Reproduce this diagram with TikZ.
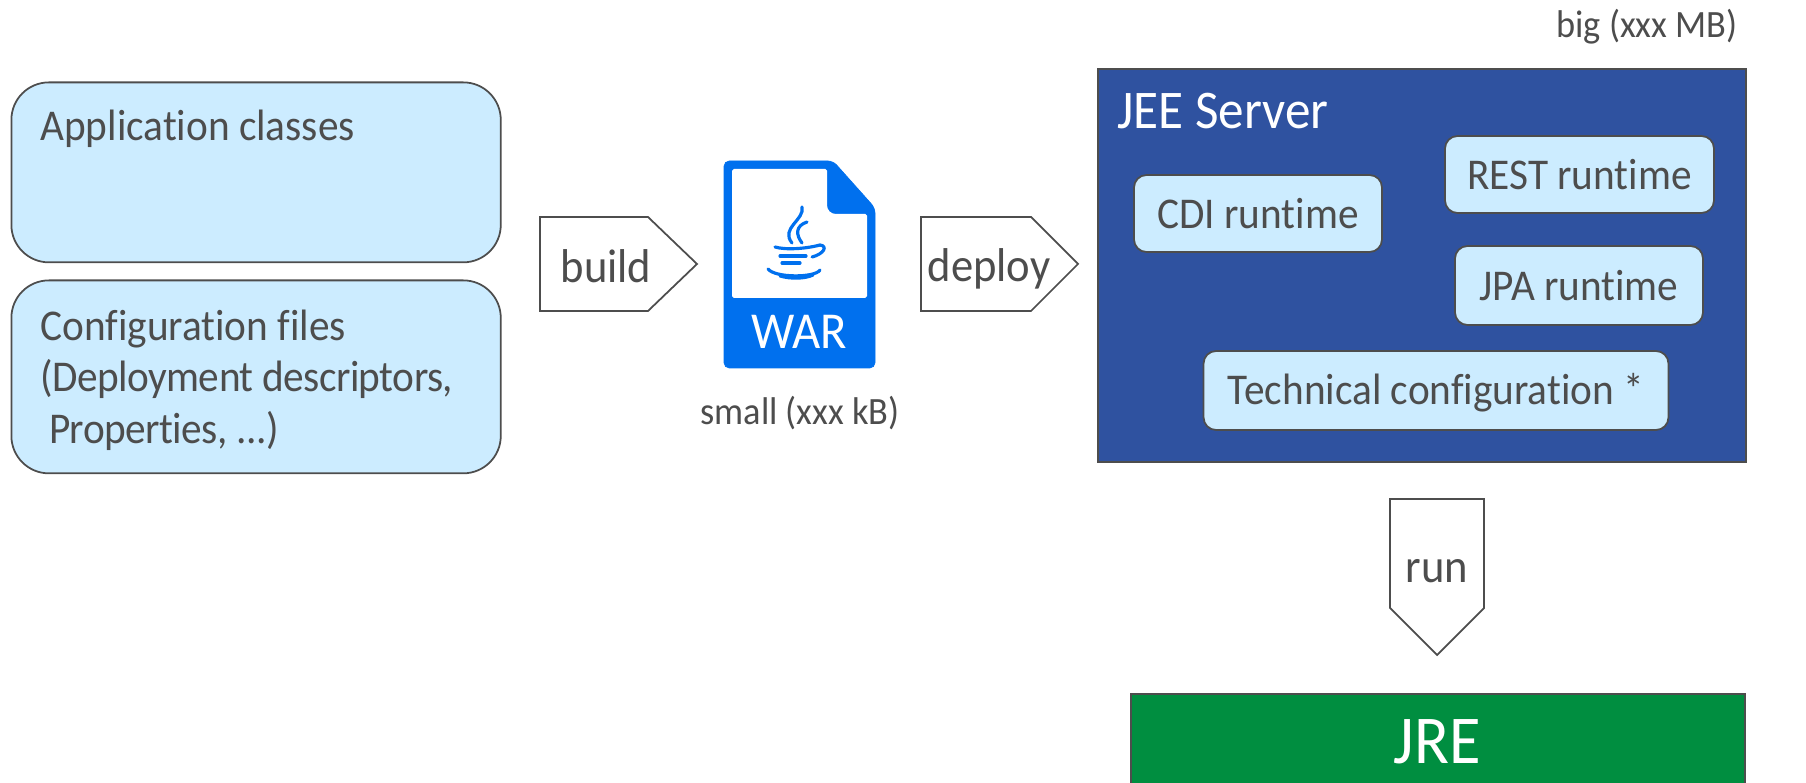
\documentclass[tikz,border=0pt]{standalone}
\usepackage{fontspec}
\setmainfont[FakeStretch=0.94,Ligatures=NoCommon]{Carlito}
\definecolor{boxblue}{HTML}{CCECFF}
\definecolor{serverblue}{HTML}{2F52A0}
\definecolor{jregreen}{HTML}{008E40}
\definecolor{warblue}{HTML}{0070EE}
\definecolor{txtgray}{HTML}{4D4D4D}
\tikzset{
    outerbox/.style={draw=txtgray,fill=boxblue,line width=1pt,rounded corners=0.75cm,anchor=north west,inner sep=0pt},
    runbox/.style={draw=txtgray,fill=boxblue,line width=1pt,rounded corners=0.25cm,inner sep=0pt,text=txtgray,text height=17pt,text depth=0pt,font=\fontsize{25}{30}\selectfont},
    plainbox/.style={draw=txtgray,line width=1pt,anchor=north west,inner sep=0pt},
    boxtext/.style={text=txtgray,anchor=west,align=left,inner sep=0pt,font=\fontsize{25}{29.2}\selectfont},
    arrowtext/.style={text=txtgray,inner sep=0pt,font=\fontsize{27}{32}\selectfont},
    arrowline/.style={draw=txtgray,line width=1pt,fill=white,line join=miter},
    sizetext/.style={text=txtgray,inner sep=0pt,font=\fontsize{22}{26}\selectfont},
    steam/.style={draw=warblue,line width=1.8pt,line cap=round},
}
\begin{document}
\begin{tikzpicture}[x=0.02cm,y=-0.02cm]
    \useasboundingbox (0,0) rectangle (1806,783);
    % left boxes
    \node[outerbox,minimum width=9.79cm,minimum height=3.6cm] (appbox) at (10.5,81.5) {};
    \node[outerbox,minimum width=9.79cm,minimum height=3.86cm] (confbox) at (10.5,279.5) {};
    \node[boxtext] (apptext) at (40,129) {Application classes};
    \node[boxtext] (conftext) at (40,380) {Configuration files\\{\addfontfeature{LetterSpace=-1.2}(Deployment descriptors,}\\ \hspace{0.2em}{\addfontfeature{LetterSpace=-1.2}Properties, ...)}};
    % build and deploy
    \draw[arrowline] (540,217) -- (648,217) -- (697,264) -- (648,311) -- (540,311) -- cycle;
    \node[arrowtext] (buildtext) at (606,266) {build};
    \draw[arrowline] (921,217) -- (1031,217) -- (1078,264) -- (1031,311) -- (921,311) -- cycle;
    \node[arrowtext] (deploytext) at (989,268.5) {deploy};
    % war file
    \filldraw[warblue,rounded corners=3pt] (724,161) -- (833,161) -- (875,208) -- (875,368) -- (724,368) -- cycle;
    \fill[white,rounded corners=1pt] (732,169) -- (827,169) -- (827,205) [rounded corners=5pt] -- (827,214) [rounded corners=1pt] -- (867,214) -- (867,298) -- (732,298) -- cycle;
    \draw[steam] (802,207) .. controls (805,220) and (780,228) .. (792,243);
    \draw[steam] (807,222) .. controls (795,226) and (796,235) .. (802,243);
    \draw[steam] (775,247) .. controls (785,250) and (805,249) .. (820,245);
    \draw[steam] (820,245) .. controls (828,246) and (824,254) .. (812,257);
    \draw[steam] (780,256) -- (806,256);
    \draw[steam] (782,263) -- (800,263);
    \draw[steam] (768,269) .. controls (775,278) and (815,278) .. (820,270);
    \draw[steam] (780,276) .. controls (790,279) and (805,279) .. (813,275);
    \node[text=white,inner sep=0pt,font=\fontsize{29.5}{32}\selectfont] (wartext) at (799,332) {WAR};
    \node[sizetext] (smalltext) at (800,413) {small (xxx kB)};
    % server
    \node[plainbox,fill=serverblue,minimum width=12.96cm,minimum height=7.86cm] (jeebox) at (1097,68) {};
    \node[text=white,anchor=west,inner sep=0pt,font=\fontsize{31}{36}\selectfont] (jeetext) at (1117,111) {JEE Server};
    \node[runbox,minimum width=5.38cm,minimum height=1.54cm] (restbox) at (1579.5,174.5) {REST runtime};
    \node[runbox,minimum width=4.96cm,minimum height=1.54cm] (cdibox) at (1258,213.5) {CDI runtime};
    \node[runbox,minimum width=4.96cm,minimum height=1.58cm] (jpabox) at (1579,285.5) {JPA runtime};
    \node[runbox,text height=15.4pt,minimum width=9.3cm,minimum height=1.58cm] (techbox) at (1436,390.5) {Technical configuration *};
    \node[sizetext] (bigtext) at (1647,27) {big (xxx MB)};
    % run and jre
    \draw[arrowline] (1390,499) -- (1484,499) -- (1484,608) -- (1437,655) -- (1390,608) -- cycle;
    \node[arrowtext] (runtext) at (1437,571.5) {run};
    \node[plainbox,fill=jregreen,minimum width=12.28cm,minimum height=2.4cm] (jrebox) at (1130,693) {};
    \node[text=white,inner sep=0pt,font=\fontsize{39}{44}\selectfont] (jretext) at (1437,742) {JRE};
\end{tikzpicture}
\end{document}
